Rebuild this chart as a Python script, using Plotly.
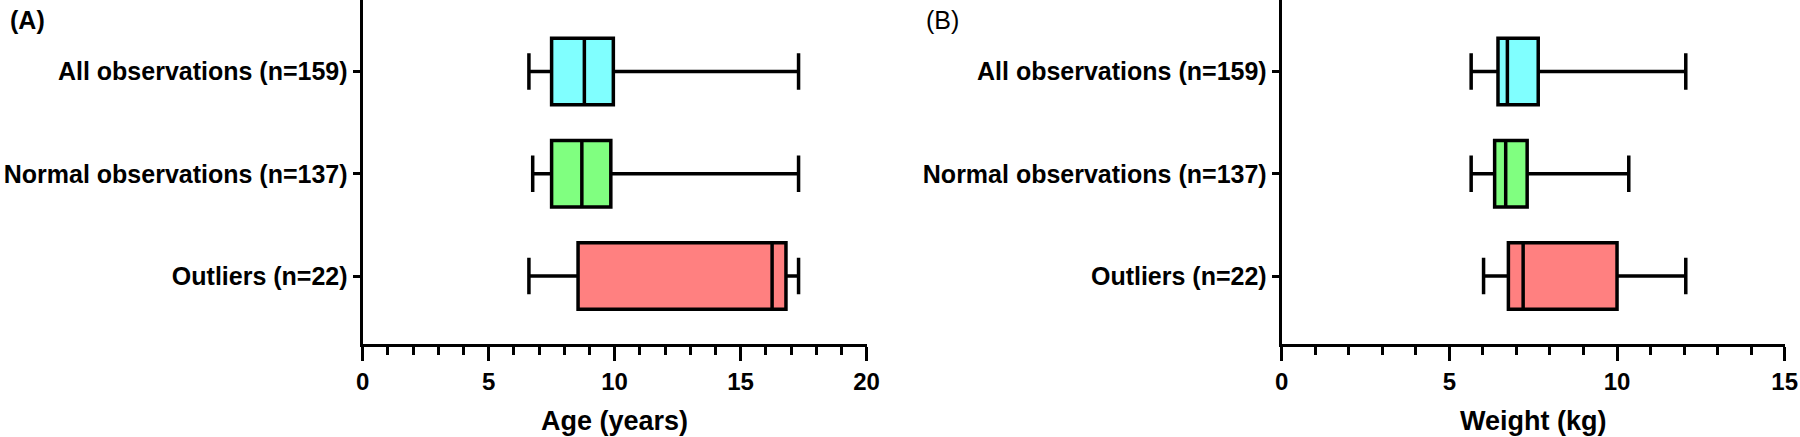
import plotly.graph_objects as go

categories = ["All observations (n=159)", "Normal observations (n=137)", "Outliers (n=22)"]
colors = ["#80FFFF", "#80FF80", "#FF8080"]

# Panel A: Age (years)
age_min = [6.6, 6.75, 6.6]
age_q1 = [7.5, 7.5, 8.55]
age_med = [8.8, 8.7, 16.25]
age_q3 = [9.95, 9.85, 16.8]
age_max = [17.3, 17.3, 17.3]

# Panel B: Weight (kg)
wt_min = [5.65, 5.65, 6.02]
wt_q1 = [6.45, 6.35, 6.76]
wt_med = [6.73, 6.68, 7.2]
wt_q3 = [7.65, 7.32, 10.0]
wt_max = [12.05, 10.35, 12.05]

fig = go.Figure()

def add_boxes(mins, q1s, meds, q3s, maxs, xa, ya):
    for i, cat in enumerate(categories):
        fig.add_trace(go.Box(
            y=[cat], q1=[q1s[i]], median=[meds[i]], q3=[q3s[i]],
            lowerfence=[mins[i]], upperfence=[maxs[i]],
            orientation="h", fillcolor=colors[i],
            line=dict(color="black", width=3.5),
            width=0.65, whiskerwidth=0.55,
            boxpoints=False, showlegend=False,
            xaxis=xa, yaxis=ya,
        ))

add_boxes(age_min, age_q1, age_med, age_q3, age_max, "x", "y")
add_boxes(wt_min, wt_q1, wt_med, wt_q3, wt_max, "x2", "y2")

FONT = "Liberation Sans"
ydom = [93 / 437, 1.0]

def xaxis_cfg(domain, rng, title, anchor):
    return dict(
        domain=domain, range=rng, anchor=anchor,
        showline=True, linewidth=3, linecolor="black",
        showgrid=False, zeroline=False,
        ticks="outside", ticklen=14, tickwidth=3, tickcolor="black",
        dtick=5, tick0=0,
        minor=dict(ticks="outside", dtick=1, ticklen=8, tickwidth=3, tickcolor="black", showgrid=False),
        tickfont=dict(family=FONT, size=24, color="black", weight="bold"),
        ticklabeloverflow="allow",
        title=dict(text=title, font=dict(family=FONT, size=27, color="black", weight="bold"), standoff=18),
        automargin=False, fixedrange=True,
    )

def yaxis_cfg(anchor):
    return dict(
        domain=ydom, anchor=anchor, type="category",
        categoryorder="array", categoryarray=categories,
        range=[2.665, -0.70],
        showline=True, linewidth=3, linecolor="black",
        showgrid=False, zeroline=False,
        ticks="outside", ticklen=7, tickwidth=3, tickcolor="black",
        tickfont=dict(family=FONT, size=25, color="black", weight="bold"),
        automargin=False, fixedrange=True,
    )

fig.update_layout(
    width=1800, height=437,
    margin=dict(l=0, r=0, t=0, b=0),
    paper_bgcolor="white", plot_bgcolor="white",
    xaxis=xaxis_cfg([362.6 / 1800, 866.6 / 1800], [0, 20], "Age (years)", "y"),
    yaxis=yaxis_cfg("x"),
    xaxis2=xaxis_cfg([1281.7 / 1800, 1784.7 / 1800], [0, 15], "Weight (kg)", "y2"),
    yaxis2=yaxis_cfg("x2"),
    annotations=[
        dict(text="(A)", x=8 / 1800, y=1 - 20 / 437, xref="paper", yref="paper",
             xanchor="left", yanchor="middle", showarrow=False,
             font=dict(family=FONT, size=25, color="black", weight="bold")),
        dict(text="(B)", x=924 / 1800, y=1 - 20 / 437, xref="paper", yref="paper",
             xanchor="left", yanchor="middle", showarrow=False,
             font=dict(family=FONT, size=25, color="black")),
    ],
)

fig.write_html(
    "out.html",
    config={"displayModeBar": False},
    post_script="document.body.style.margin='0px';document.body.style.overflow='hidden';",
)
